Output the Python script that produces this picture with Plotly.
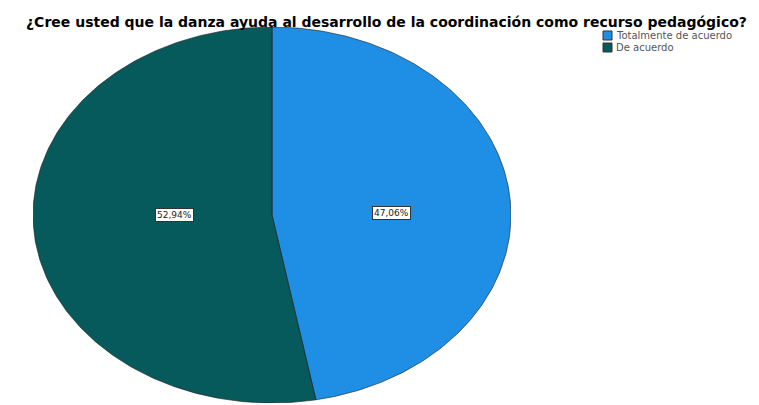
import numpy as np
import plotly.graph_objects as go

# Survey answers and their shares (percent)
categories = ["Totalmente de acuerdo", "De acuerdo"]
percentages = [47.06, 52.94]
colors = ["#1E8FE4", "#065A5B"]
title_text = "¿Cree usted que la danza ayuda al desarrollo de la coordinación como recurso pedagógico?"

W, H = 759, 405
fig = go.Figure()

annotations = []
shapes = []

# Slices drawn clockwise from 12 o'clock on a unit circle; the unequal
# axis scaling stretches the pie into an ellipse.
start = 0.0
for i, (name, pct, col) in enumerate(zip(categories, percentages, colors)):
    sweep = pct / 100.0 * 2 * np.pi
    t = np.linspace(start, start + sweep, 200)
    xs = np.concatenate([[0.0], np.sin(t), [0.0]])
    ys = np.concatenate([[0.0], np.cos(t), [0.0]])
    fig.add_trace(go.Scatter(
        x=xs, y=ys, mode="lines", fill="toself", fillcolor=col,
        line=dict(color="#1a1a1a", width=0.6),
        name=name, hoverinfo="skip", showlegend=False,
    ))
    # percentage label at the centre of the slice's bounding box
    lx = (xs.min() + xs.max()) / 2
    ly = (ys.min() + ys.max()) / 2
    annotations.append(dict(
        x=lx, y=ly, text=f"{pct:.2f}%".replace(".", ","),
        showarrow=False, font=dict(family="DejaVu Sans", size=9, color="#222"),
        bgcolor="white", bordercolor="#333", borderwidth=1, borderpad=1,
    ))
    # compact legend: swatch + text, stacked 12 px apart
    top = 31 + 12 * i
    shapes.append(dict(
        type="rect", xref="paper", yref="paper",
        x0=603 / W, x1=612 / W, y0=1 - (top + 9) / H, y1=1 - top / H,
        fillcolor=col, line=dict(color="#333", width=1),
    ))
    annotations.append(dict(
        x=614 / W, y=1 - (top + 4.5) / H, xref="paper", yref="paper",
        xanchor="left", yanchor="middle", text=name, showarrow=False,
        font=dict(family="DejaVu Sans", size=10, color="#555"),
    ))
    start += sweep

annotations.append(dict(
    x=386 / W, y=1 - 12 / H, xref="paper", yref="paper",
    text=f"<b>{title_text}</b>", showarrow=False,
    font=dict(family="DejaVu Sans", size=14, color="black"),
))

fig.update_layout(
    width=W, height=H, autosize=False,
    margin=dict(l=0, r=0, t=0, b=0),
    paper_bgcolor="white", plot_bgcolor="white",
    xaxis=dict(range=[-1, 1], domain=[33 / W, 511 / W], visible=False, fixedrange=True),
    yaxis=dict(range=[-1, 1], domain=[2 / H, 378 / H], visible=False, fixedrange=True),
    showlegend=False,
    annotations=annotations,
    shapes=shapes,
)

fig.write_html("out.html")
